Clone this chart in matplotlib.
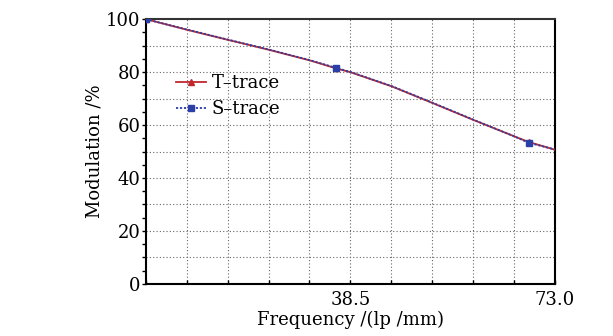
import matplotlib
matplotlib.use("Agg")
import matplotlib.pyplot as plt
import numpy as np

# Data
freq = [4.0, 10.9, 17.8, 24.8, 31.7, 36.1, 38.6, 45.5, 52.4, 59.3, 66.1, 68.6, 73.0]
t_trace = [100.0, 96.0, 92.2, 88.4, 84.4, 81.4, 79.9, 74.6, 68.3, 61.9, 55.8, 53.6, 50.7]
s_trace = [100.0, 96.1, 92.3, 88.5, 84.5, 81.6, 80.0, 74.7, 68.4, 62.0, 55.8, 53.3, 50.8]
marker_idx = [0, 5, 11]
x_tick_labels = {38.5: "38.5", 73.0: "73.0"}
y_tick_labels = [0, 20, 40, 60, 80, 100]

plt.rcParams['font.family'] = ['DejaVu Serif']
plt.rcParams['mathtext.fontset'] = 'dejavuserif'

fig = plt.figure(figsize=(6.13, 3.36), dpi=100)
ax = fig.add_axes([0.238, 0.155, 0.667, 0.788])

ax.plot(freq, t_trace, color='#c0282d', lw=1.3, marker='^', ms=4,
        markevery=marker_idx, label='T\u2013trace', zorder=3)
ax.plot(freq, s_trace, color='#2b3fa8', lw=1.3, ls=(0, (1.2, 1.0)), marker='s', ms=4.5,
        markevery=marker_idx, label='S\u2013trace', zorder=4)

ax.set_xlim(4, 73)
ax.set_ylim(0, 100)

xt = np.linspace(4, 73, 11)
ax.set_xticks(xt)
labels = []
for v in xt:
    key = round(v, 1)
    labels.append(x_tick_labels.get(key, ""))
ax.set_xticklabels(labels)
ax.set_yticks(y_tick_labels)
ax.set_yticks(np.arange(0, 101, 5), minor=True)

ax.tick_params(axis='x', direction='in', length=3, width=1, labelsize=13, pad=5)
ax.tick_params(axis='y', which='both', direction='out', length=3, width=1, labelsize=13, pad=1)

# grid
for v in xt[1:-1]:
    ax.axvline(v, color='#666666', lw=0.8, ls=(0, (1, 2)), zorder=1)
for v in np.arange(10, 100, 10):
    ax.axhline(v, color='#666666', lw=0.8, ls=(0, (1, 2)), zorder=1)

for s in ['left', 'bottom', 'right']:
    ax.spines[s].set_linewidth(1.5)
    ax.spines[s].set_color('black')
ax.spines['top'].set_linewidth(1.5)
ax.spines['top'].set_color('#333333')

ax.set_xlabel('Frequency /(lp /mm)', fontsize=13, labelpad=1)
ax.set_ylabel('Modulation /%', fontsize=13, labelpad=2)

leg = ax.legend(loc='upper left', bbox_to_anchor=(0.055, 0.82), frameon=False,
                fontsize=13, handlelength=1.7, handletextpad=0.3, labelspacing=0.45,
                borderaxespad=0)

fig.savefig('out.png', dpi=100)
